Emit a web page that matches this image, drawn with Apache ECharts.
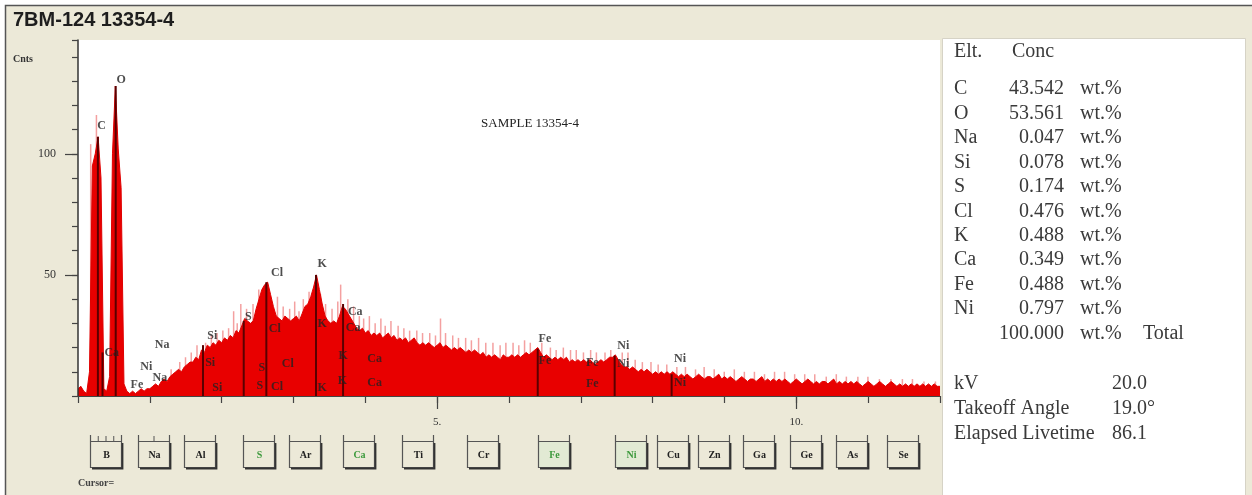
<!DOCTYPE html>
<html><head><meta charset="utf-8">
<script src="https://cdn.jsdelivr.net/npm/echarts@6/dist/echarts.min.js"></script>
<style>html,body{margin:0;padding:0;background:#fff}#c{width:1252px;height:495px}</style>
</head><body><div id="c"></div>
<script>
// ---------- DATA ----------
const chartTitle = '7BM-124 13354-4';
const sampleName = 'SAMPLE 13354-4';
const energyStart = 0;      // keV of first channel
const energyStep = 0.04;    // keV per channel
const counts = [
  3,4,2,1,10,95,100,107,90,3,
  2,8,100,128,102,86,5,2,1,2,
  1,2,3,2,3,3,4,5,4,6,
  7,6,8,9,10,11,10,12,13,14,
  14,16,15,19,18,21,20,22,21,23,
  22,24,23,25,24,27,26,29,32,31,
  30,31,36,40,44,46,47,42,37,33,
  32,31,33,32,31,32,33,31,34,37,
  38,41,45,50,44,38,33,31,30,31,
  30,33,37,36,34,32,30,28,27,28,
  26,27,25,26,25,26,24,25,26,24,
  25,23,24,23,24,22,23,24,22,21,
  22,21,22,21,20,21,22,20,21,20,
  19,20,19,20,19,18,19,18,19,18,
  17,18,16,17,16,17,16,15,17,16,
  16,17,16,17,16,17,18,17,18,19,
  20,18,16,17,16,15,16,15,16,15,
  16,14,15,14,15,14,15,14,15,14,
  13,14,15,14,15,16,16,17,15,13,
  12,12,11,12,11,10,11,10,11,10,
  9,10,9,10,9,10,9,10,9,8,
  9,8,9,8,7,8,9,8,7,8,
  8,7,8,9,7,8,7,8,7,6,
  7,8,7,6,7,7,6,7,8,6,
  7,6,7,6,7,6,7,6,5,6,
  7,6,5,6,7,6,5,6,5,6,
  6,5,6,7,5,6,5,6,5,6,
  5,6,5,4,5,6,5,4,5,6,
  5,4,5,6,5,4,5,4,5,4,
  5,4,5,4,5,4,5,4,5,4,
  4
];
const spikeEnergies = [0.18,0.26,1.30,1.42,1.50,1.58,1.66,1.78,1.86,1.94,2.02,2.10,2.17,2.22,2.27,2.35,2.44,2.52,2.70,2.78,2.86,2.95,3.02,3.08,3.14,3.22,3.38,3.45,3.54,3.62,3.66,3.76,3.84,3.92,3.98,4.06,4.14,4.22,4.28,4.36,4.46,4.54,4.62,4.72,4.80,4.90,4.98,5.05,5.12,5.22,5.30,5.40,5.48,5.58,5.68,5.78,5.88,5.96,6.06,6.14,6.22,6.30,6.46,6.58,6.66,6.76,6.86,6.94,7.04,7.14,7.22,7.34,7.42,7.58,7.66,7.76,7.86,7.98,8.08,8.20,8.34,8.46,8.60,8.72,8.86,9.00,9.14,9.28,9.42,9.56,9.70,9.84,9.98,10.12,10.26,10.42,10.56,10.70,10.86,11.00,11.16,11.32,11.48,11.62,11.78,11.94];
const spikeCounts = [104,116,11,14,16,18,21,22,25,26,27,28,35,30,38,36,38,44,36,41,37,36,39,35,40,43,42,38,36,39,46,40,37,33,32,33,30,32,29,31,29,28,27,27,26,26,25,32,26,25,24,24,23,24,22,22,21,22,22,21,23,22,22,20,19,20,19,19,18,19,18,18,19,18,18,15,14,14,13,13,12,12,11,12,11,10,11,10,10,9,10,10,9,9,9,8,9,8,8,8,7,7,7,7,6,6];
const markerEnergies = [0.277,0.341,0.525,1.740,2.307,2.622,3.313,3.690,6.400,7.471,8.264];
const markerCounts = [107,18,128,21,31,47,50,38,19.5,16.6,9];
const peakLabels = ['O','C','Ca','Fe','Ni','Na','Na','Si','Si','Si','S','S','S','Cl','Cl','Cl','Cl','K','K','K','K','K','Ca','Ca','Ca','Ca','Fe','Fe','Fe','Fe','Ni','Ni','Ni','Ni'];
const peakLabelEnergies = [0.60,0.33,0.47,0.82,0.95,1.17,1.14,1.87,1.84,1.94,2.37,2.56,2.53,2.77,2.74,2.92,2.77,3.40,3.40,3.69,3.68,3.40,3.86,3.83,4.13,4.13,6.50,6.50,7.16,7.16,7.59,7.59,8.38,8.38];
const peakLabelCounts = [130.7,111.6,17.8,4.6,12.0,21.2,7.5,24.9,13.7,3.3,32.8,11.6,4.1,51,27.8,13.3,3.7,54.4,29.9,16.6,6.2,3.3,34.9,28.2,15.4,5.4,23.7,14.5,13.7,5.0,20.7,13.3,15.4,5.4];
const yTickValues = [50, 100];
const xTickValues = [5, 10];
const xTickLabels = ['5.', '10.'];
const elements = ['C','O','Na','Si','S','Cl','K','Ca','Fe','Ni'];
const concentrations = ['43.542','53.561','0.047','0.078','0.174','0.476','0.488','0.349','0.488','0.797'];
const totalConc = '100.000';
const unit = 'wt.%';
const conditionNames = ['kV','Takeoff Angle','Elapsed Livetime'];
const conditionValues = ['20.0','19.0°','86.1'];
const buttonElements = ['B','Na','Al','S','Ar','Ca','Ti','Cr','Fe','Ni','Cu','Zn','Ga','Ge','As','Se'];
const buttonHighlighted = ['S','Ca','Fe','Ni'];

// ---------- LAYOUT ----------
const buttonLeft = [90,138,184,243,289,343,402,467,538,615,657,698,743,790,836,887];
const buttonInnerTicks = {B:3, Na:1};
const serif = '"Liberation Serif", "Times New Roman", serif';

const chart = echarts.init(document.getElementById('c'));
const graphics = [];
function txt(x, y, s, font, fill, align) {
  graphics.push({type:'text', z:100, style:{x:x, y:y, text:s, font:font, fill:fill||'#333', textAlign:align||'left', textVerticalAlign:'middle'}});
}
// frame / panels
graphics.push({type:'rect', z:-10, shape:{x:5.5,y:5.5,width:1252,height:495}, style:{fill:'#ece9d8', stroke:'#555', lineWidth:1.5}});
graphics.push({type:'rect', z:-9, shape:{x:942.5,y:38.5,width:303,height:460}, style:{fill:'#ffffff', stroke:'#d6d3c6', lineWidth:1}});
txt(13, 20, chartTitle, 'bold 20px "Liberation Sans", Arial, sans-serif', '#1e1e1e');
txt(13, 59, 'Cnts', 'bold 10px ' + serif, '#333');
txt(530, 124, sampleName, '13px ' + serif, '#222', 'center');
txt(78, 483, 'Cursor=', 'bold 10px ' + serif, '#444');
// table
const tFont = '20px ' + serif, tCol = '#3a3a3a';
txt(954, 52, 'Elt.', tFont, tCol);
txt(1012, 52, 'Conc', tFont, tCol);
elements.forEach((e, i) => {
  const y = 89 + i * 24.45;
  txt(954, y, e, tFont, tCol);
  txt(1064, y, concentrations[i], tFont, tCol, 'right');
  txt(1080, y, unit, tFont, tCol);
});
const yTot = 89 + elements.length * 24.45;
txt(1064, yTot, totalConc, tFont, tCol, 'right');
txt(1080, yTot, unit, tFont, tCol);
txt(1143, yTot, 'Total', tFont, tCol);
conditionNames.forEach((n, i) => {
  const y = 384 + i * 25;
  txt(954, y, n, tFont, tCol);
  txt(1112, y, conditionValues[i], tFont, tCol);
});
// element buttons
buttonElements.forEach((el, i) => {
  const x = buttonLeft[i], w = 31, top = 441, bot = 467;
  const hl = buttonHighlighted.includes(el);
  graphics.push({type:'rect', z:50, shape:{x:x+0.5, y:top+0.5, width:w, height:bot-top}, style:{fill: hl && (el==='Fe'||el==='Ni') ? '#e2ead4' : '#ece9d8', stroke:'#555', lineWidth:1.2}});
  graphics.push({type:'polyline', z:51, shape:{points:[[x+2,bot+1.5],[x+w+1.5,bot+1.5],[x+w+1.5,top+2]]}, style:{stroke:'#333', lineWidth:1.8, fill:null}});
  graphics.push({type:'line', z:51, shape:{x1:x+0.5,y1:top-6,x2:x+0.5,y2:top}, style:{stroke:'#555', lineWidth:1.2}});
  graphics.push({type:'line', z:51, shape:{x1:x+w+0.5,y1:top-6,x2:x+w+0.5,y2:top}, style:{stroke:'#555', lineWidth:1.2}});
  const n = buttonInnerTicks[el] || 0;
  for (let k = 1; k <= n; k++) {
    const tx = x + 0.5 + w * k / (n + 1);
    graphics.push({type:'line', z:51, shape:{x1:tx,y1:top-5,x2:tx,y2:top}, style:{stroke:'#555', lineWidth:1}});
  }
  txt(x + w/2 + 1, (top+bot)/2 + 1, el, 'bold 10px ' + serif, hl ? '#3d9a3d' : '#222', 'center');
});

const yMax = 147;
const option = {
  animation: false,
  backgroundColor: 'transparent',
  grid: {left:78, right:312, top:40, bottom:99, show:true, backgroundColor:'#ffffff', borderWidth:0},
  xAxis: [
    {type:'value', min:0, max:12, interval:1, z:10,
     axisLine:{show:true, lineStyle:{color:'#444', width:1.2}},
     axisTick:{show:true, length:7, lineStyle:{color:'#444', width:1.2}},
     axisLabel:{show:false}, splitLine:{show:false}},
    {type:'value', min:0, max:12, interval:5, z:10, position:'bottom',
     axisLine:{show:false},
     axisTick:{show:true, length:13, customValues:xTickValues, lineStyle:{color:'#444', width:1.2}},
     axisLabel:{show:true, customValues:xTickValues, margin:21, fontFamily:serif, fontSize:11, color:'#333',
       formatter: v => xTickLabels[xTickValues.indexOf(v)] || ''},
     splitLine:{show:false}}
  ],
  yAxis: [
    {type:'value', min:0, max:yMax, interval:10, z:10,
     axisLine:{show:true, lineStyle:{color:'#333', width:1.5}},
     axisTick:{show:true, length:6, lineStyle:{color:'#444', width:1.2}},
     axisLabel:{show:false}, splitLine:{show:false}},
    {type:'value', min:0, max:yMax, interval:50, z:10, position:'left',
     axisLine:{show:false},
     axisTick:{show:true, length:13, customValues:yTickValues, lineStyle:{color:'#444', width:1.2}},
     axisLabel:{show:true, customValues:yTickValues, margin:22, fontFamily:serif, fontSize:12, color:'#333'},
     splitLine:{show:false}}
  ],
  series: [
    {type:'bar', name:'spikes', xAxisIndex:0, yAxisIndex:0, barWidth:1.5, barGap:'-100%', z:1,
     itemStyle:{color:'#f4a0a0'},
     data: spikeEnergies.map((e, i) => [e, spikeCounts[i]])},
    {type:'line', name:'spectrum', xAxisIndex:0, yAxisIndex:0, symbol:'none', z:2,
     lineStyle:{color:'#e00000', width:1}, areaStyle:{color:'#e80000', opacity:1},
     data: counts.map((c, i) => [energyStart + i * energyStep, c])},
    {type:'bar', name:'markers', xAxisIndex:0, yAxisIndex:0, barWidth:2, barGap:'-100%', z:3,
     itemStyle:{color:'#5a0000'},
     data: markerEnergies.map((e, i) => [e, markerCounts[i]])},
    {type:'scatter', name:'labels', xAxisIndex:0, yAxisIndex:0, symbolSize:0, z:5,
     label:{show:true, position:'inside', formatter: p => p.data[2], fontFamily:serif, fontSize:12, fontWeight:'bold', color:'#222'},
     data: peakLabels.map((n, i) => [peakLabelEnergies[i], peakLabelCounts[i], n])}
  ],
  graphic: graphics
};
chart.setOption(option);
</script></body></html>
